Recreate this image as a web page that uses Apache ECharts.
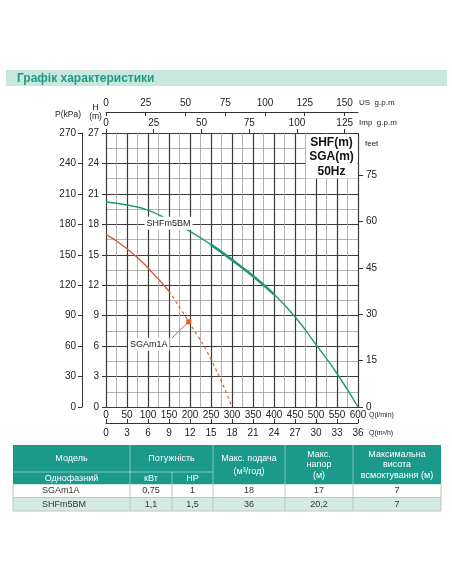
<!DOCTYPE html>
<html><head><meta charset="utf-8">
<script src="https://cdn.jsdelivr.net/npm/echarts@6/dist/echarts.min.js"></script>
<style>html,body{margin:0;padding:0;background:#fff}#c{width:452px;height:584px}</style>
</head><body><div id="c"></div>
<script>
// ---- data ----
const flowLpm = [0,50,100,150,200,250,300,350,400,450,500,550,600];
const headSHF = [20.2,19.9,19.4,18.4,17.3,16.0,14.5,12.9,11.1,8.9,6.15,3.3,0];
const flowSGA = [0,50,100,150,200,250,300];
const headSGA = [17,15.6,13.7,11.4,8.2,4.7,0];
const usGpmStep = 25;   // US g.p.m tick labels 0..150
const impGpmStep = 25;  // Imp g.p.m tick labels 0..125
const feetStep = 15;    // feet tick labels 0..75
const modelNames = ['SGAm1A','SHFm5BM'];
const tblKw = ['0,75','1,1'];
const tblHp = ['1','1,5'];
const tblMaxFlow = ['18','36'];
const tblMaxHead = ['17','20,2'];
const tblSuction = ['7','7'];
const tblHeaders = ['Модель','Потужність','Макс. подача\n(м³/год)','Макс.\nнапор\n(м)','Максимальна\nвисота\nвсмоктування (м)'];
const tblSubHeaders = ['Однофазний','кВт','HP'];
const chartTitle = 'Графік характеристики';
const boxText = 'SHF(m)\nSGA(m)\n50Hz';

// ---- styles ----
const FONT = '"Liberation Sans", Arial, sans-serif';
const TEAL = '#23967a';
const ORANGE = '#d9602c';
const HDR = '#1b9a8b';
const dark = '#333';

const shfPts = flowLpm.map((q,i)=>[q,headSHF[i]]);
const sgaPts = flowSGA.map((q,i)=>[q,headSGA[i]]);

const g = [];
function txt(x,y,text,opt){ g.push({type:'text',x:x,y:y,z:100,style:Object.assign({text:text,fill:'#222',font:'9px '+FONT,align:'left',verticalAlign:'middle'},opt||{})}); }
function rect(x,y,w,h,fill){ g.push({type:'rect',z:99,shape:{x:x,y:y,width:w,height:h},style:{fill:fill}}); }
function line(x1,y1,x2,y2,stroke,w){ g.push({type:'line',z:101,shape:{x1:x1,y1:y1,x2:x2,y2:y2},style:{stroke:stroke,lineWidth:w||1}}); }

// title band
rect(6,70,441,16,'#c8e7dd');
txt(17,78.5,chartTitle,{fill:'#1f9c86',font:'bold 12px '+FONT});
// info box
rect(306,134,51.5,44.5,'#fff');
txt(331.5,157,boxText,{font:'bold 12px '+FONT,align:'center',lineHeight:14.5,fill:'#111'});
// axis names
txt(55,115,'P(kPa)',{font:'8.5px '+FONT});
txt(95.5,108,'H',{font:'9px '+FONT,align:'center'});
txt(95.5,117,'(m)',{font:'8.5px '+FONT,align:'center'});
txt(359,102.5,'US  g.p.m',{font:'8px '+FONT});
txt(359,123,'Imp  g.p.m',{font:'8px '+FONT});
txt(365,144,'feet',{font:'8px '+FONT});
txt(369,415,'Q(l/min)',{font:'7px '+FONT});
txt(369,433,'Q(m³/h)',{font:'7px '+FONT});

// table
const cols = [13,130,172,213,285,353,441];
const yT=445, yM=472, yH=484.5, yR2=497.5, yB=511;
rect(cols[0],yT,cols[6]-cols[0],yH-yT,HDR);
rect(cols[0],yH,cols[6]-cols[0],yR2-yH,'#ffffff');
rect(cols[0],yR2,cols[6]-cols[0],yB-yR2,'#d3ebe4');
const sepH='rgba(255,255,255,0.45)';
[cols[1],cols[3],cols[4],cols[5]].forEach(x=>line(x,yT,x,yH,sepH,1));
line(cols[2],yM,cols[2],yH,sepH,1);
line(cols[0],yM,cols[3],yM,sepH,1);
const sepD='#c4c4c4';
cols.forEach(x=>line(x,yH,x,yB,sepD,1));
line(cols[0],yR2,cols[6],yR2,sepD,1);
line(cols[0],yB,cols[6],yB,sepD,1);
const hdrStyle={fill:'#fff',font:'9px '+FONT,align:'center'};
txt((cols[0]+cols[1])/2,459,tblHeaders[0],hdrStyle);
txt((cols[1]+cols[3])/2,459,tblHeaders[1],hdrStyle);
txt((cols[3]+cols[4])/2,465,tblHeaders[2],Object.assign({},hdrStyle,{lineHeight:13}));
txt((cols[4]+cols[5])/2,465,tblHeaders[3],Object.assign({},hdrStyle,{lineHeight:10.5}));
txt((cols[5]+cols[6])/2,465,tblHeaders[4],Object.assign({},hdrStyle,{lineHeight:10.5}));
txt((cols[0]+cols[1])/2,478.5,tblSubHeaders[0],hdrStyle);
txt((cols[1]+cols[2])/2,478.5,tblSubHeaders[1],hdrStyle);
txt((cols[2]+cols[3])/2,478.5,tblSubHeaders[2],hdrStyle);
const rowY=[491,504.5];
modelNames.forEach((m,i)=>{
  const s={fill:dark,font:'9px '+FONT,align:'center'};
  txt(42,rowY[i],m,{fill:dark,font:'9px '+FONT,align:'left'});
  txt((cols[1]+cols[2])/2,rowY[i],tblKw[i],s);
  txt((cols[2]+cols[3])/2,rowY[i],tblHp[i],s);
  txt((cols[3]+cols[4])/2,rowY[i],tblMaxFlow[i],s);
  txt((cols[4]+cols[5])/2,rowY[i],tblMaxHead[i],s);
  txt((cols[5]+cols[6])/2,rowY[i],tblSuction[i],s);
});

const lbl = {fontSize:10,color:'#222',fontFamily:FONT};
const majorLine = {lineStyle:{color:'#3a3a3a',width:1.2}};
const minorLine = {show:true,lineStyle:{color:'#a0a0a0',width:0.8}};
const markerLabel = {show:true,position:'inside',formatter:'{b}',color:'#222',fontSize:9,fontFamily:FONT,backgroundColor:'#fff',padding:[2,2]};
const hiddenLine = {show:false,onZero:false};
const shownLine = {show:true,onZero:false,lineStyle:{color:dark,width:1}};

const chart = echarts.init(document.getElementById('c'));
chart.setOption({
  animation:false,
  textStyle:{fontFamily:FONT},
  grid:{left:106,top:133,width:252,height:274,containLabel:false},
  xAxis:[
    {type:'value',position:'bottom',min:0,max:600,interval:50,
     axisLine:hiddenLine,axisTick:{show:false},axisLabel:Object.assign({margin:3},lbl),
     splitLine:majorLine,minorTick:{show:false,splitNumber:2},minorSplitLine:minorLine},
    {type:'value',position:'bottom',offset:16,min:0,max:36,interval:3,
     axisLine:shownLine,axisTick:{show:true,inside:true,length:4,lineStyle:{color:dark}},
     axisLabel:Object.assign({margin:5},lbl),splitLine:{show:false}},
    {type:'value',position:'top',offset:21,min:0,max:600/3.785411784,interval:usGpmStep,
     axisLine:shownLine,axisTick:{show:true,inside:true,length:4,lineStyle:{color:dark}},
     axisLabel:Object.assign({margin:4,showMaxLabel:false},lbl),splitLine:{show:false}},
    {type:'value',position:'top',offset:0,min:0,max:600/4.54609,interval:impGpmStep,
     axisLine:hiddenLine,axisTick:{show:true,length:4,lineStyle:{color:dark}},
     axisLabel:Object.assign({margin:5,showMaxLabel:false},lbl),splitLine:{show:false}}
  ],
  yAxis:[
    {type:'value',position:'left',min:0,max:27,interval:3,
     axisLine:hiddenLine,axisTick:{show:true,length:4,lineStyle:{color:dark}},axisLabel:Object.assign({margin:7},lbl),
     splitLine:majorLine,minorTick:{show:false,splitNumber:2},minorSplitLine:minorLine},
    {type:'value',position:'left',offset:24,min:0,max:270,interval:30,
     axisLine:shownLine,axisTick:{show:true,length:4,lineStyle:{color:dark}},
     axisLabel:Object.assign({margin:6},lbl),splitLine:{show:false}},
    {type:'value',position:'right',min:0,max:27/0.3048,interval:feetStep,
     axisLine:hiddenLine,axisTick:{show:true,length:5,lineStyle:{color:dark}},
     axisLabel:Object.assign({margin:8,showMaxLabel:false},lbl),splitLine:{show:false}}
  ],
  graphic:{elements:g},
  series:[
    {name:modelNames[1],type:'line',smooth:true,symbol:'none',data:shfPts,
     lineStyle:{color:TEAL,width:1.4},itemStyle:{color:TEAL},
     markPoint:{symbol:'rect',symbolSize:1,itemStyle:{color:'rgba(0,0,0,0)'},label:markerLabel,
       data:[{name:modelNames[1],coord:[149,18.1]}]}},
    {name:modelNames[1]+'-op',type:'line',smooth:true,symbol:'none',data:shfPts.slice(5,9),
     lineStyle:{color:TEAL,width:2.6}},
    {name:modelNames[0],type:'line',smooth:true,symbol:'none',data:sgaPts.slice(0,4),
     lineStyle:{color:ORANGE,width:1.4},itemStyle:{color:ORANGE},
     markLine:{silent:true,symbol:['none','none'],label:{show:false},lineStyle:{color:ORANGE,width:1,type:'solid'},
       data:[[{coord:[157,6.8]},{coord:[197,8.4]}]]},
     markPoint:{label:markerLabel,
       data:[{name:modelNames[0],coord:[102,6.18],symbol:'rect',symbolSize:1,itemStyle:{color:'rgba(0,0,0,0)'}},
             {name:'',coord:[197,8.4],symbol:'rect',symbolSize:5,itemStyle:{color:ORANGE},label:{show:false}}]}},
    {name:modelNames[0]+'-ext',type:'line',smooth:true,symbol:'none',data:sgaPts.slice(3),
     lineStyle:{color:ORANGE,width:1.2,type:[3,3]}}
  ]
});
</script></body></html>
